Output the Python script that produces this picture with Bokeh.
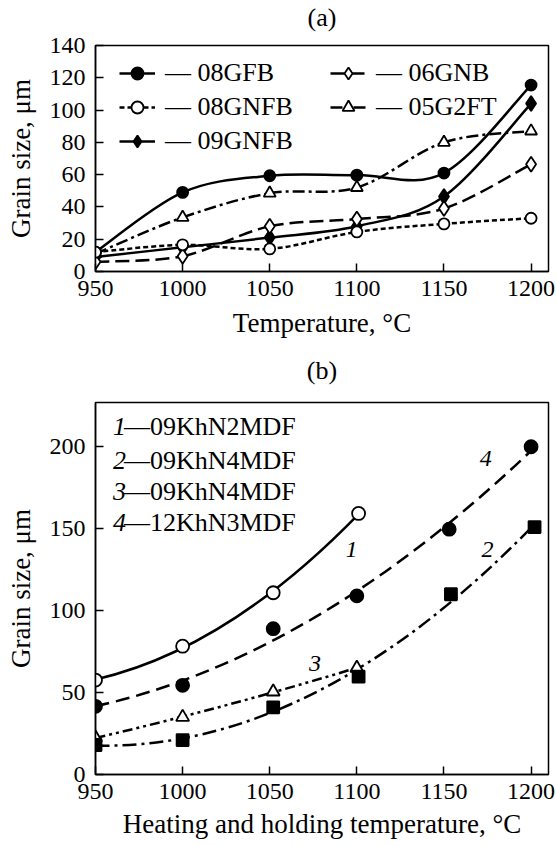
import numpy as np
from bokeh.plotting import figure
from bokeh.models import Range1d, FixedTicker, Legend, LegendItem, Label
from bokeh.layouts import column
from bokeh.embed import file_html
from bokeh.resources import INLINE

FONT = "Liberation Serif"

# ---------------- panel (a) data ----------------
temps_a = [950, 1000, 1050, 1100, 1150, 1200]
a_08GFB = [12, 49, 59.3, 59.7, 61, 115.5]
a_08GNFB = [12, 16.5, 14, 24.5, 29.5, 33]
a_09GNFB = [9, 15, 21, 28, 46.5, 104]
a_06GNB = [6, 9.5, 28, 32.5, 39, 66.5]
a_05G2FT = [11, 33.5, 48.5, 52, 80, 87]
xticks_a = [950, 1000, 1050, 1100, 1150, 1200]
yticks_a = [0, 20, 40, 60, 80, 100, 120, 140]

# ---------------- panel (b) data ----------------
b1_x = [950, 1000, 1052, 1101]
b1_y = [57.6, 78.3, 110.9, 159.3]
b2_x = [950, 1000, 1052, 1101, 1154, 1202]
b2_y = [18, 21, 41, 59.7, 110, 151]
b3_x = [950, 1000, 1052, 1100]
b3_y = [22.4, 35, 50.5, 65]
b4_x = [950, 1000, 1052, 1100, 1153, 1200]
b4_y = [41.6, 54.4, 89, 109, 149.7, 200]
xticks_b = [950, 1000, 1050, 1100, 1150, 1200]
yticks_b = [0, 50, 100, 150, 200]
legend_b_nums = ["1", "2", "3", "4"]
legend_b_names = ["\u201409KhN2MDF", "\u201409KhN4MDF", "\u201409KhN4MDF", "\u201412KhN3MDF"]


def catmull_bezier(xs, ys):
    xs = np.asarray(xs, float)
    ys = np.asarray(ys, float)
    n = len(xs)
    xp = np.concatenate([[xs[0]], xs, [xs[-1]]])
    yp = np.concatenate([[ys[0]], ys, [ys[-1]]])
    cx0 = xp[1:n] + (xp[2:n + 1] - xp[0:n - 1]) / 6
    cy0 = yp[1:n] + (yp[2:n + 1] - yp[0:n - 1]) / 6
    cx1 = xp[2:n + 1] - (xp[3:n + 2] - xp[1:n]) / 6
    cy1 = yp[2:n + 1] - (yp[3:n + 2] - yp[1:n]) / 6
    return dict(x0=xs[:-1], y0=ys[:-1], x1=xs[1:], y1=ys[1:],
                cx0=cx0, cy0=cy0, cx1=cx1, cy1=cy1)


def quad_fit(xs, ys):
    xs = np.asarray(xs, float)
    ys = np.asarray(ys, float)
    base = xs[0]
    t = xs - base
    c = np.polyfit(t, ys, 2)
    f = np.poly1d(c)
    df = f.deriv()
    u0, u1 = t[0], t[-1]
    cx = (u0 + u1) / 2
    cy = f(u0) + df(u0) * (u1 - u0) / 2
    return dict(x0=[u0 + base], y0=[f(u0)], x1=[u1 + base], y1=[f(u1)],
                cx=[cx + base], cy=[cy])


def style(p, xt, yt, xlabel, ylabel, xstand, tpad):
    p.xaxis.ticker = FixedTicker(ticks=xt)
    p.yaxis.ticker = FixedTicker(ticks=yt)
    for ax in (p.xaxis[0], p.yaxis[0]):
        ax.major_tick_in = 8
        ax.major_tick_out = 0
        ax.minor_tick_line_color = None
        ax.major_tick_line_width = 1.5
        ax.major_tick_line_color = "black"
        ax.axis_line_width = 1.5
        ax.axis_line_color = "black"
        ax.major_label_text_font = FONT
        ax.major_label_text_font_size = "24px"
        ax.major_label_text_color = "black"
        ax.axis_label_text_font = FONT
        ax.axis_label_text_font_size = "27px"
        ax.axis_label_text_font_style = "normal"
        ax.axis_label_text_color = "black"
    p.xaxis.major_label_standoff = 9
    p.yaxis.major_label_standoff = 10
    p.xaxis.axis_label_standoff = xstand
    p.yaxis.axis_label_standoff = 11
    p.xaxis.axis_label = xlabel
    p.yaxis.axis_label = ylabel
    p.grid.visible = False
    p.outline_line_color = "black"
    p.outline_line_width = 1.5
    p.outline_line_alpha = 1
    p.title.align = "center"
    p.title.text_font = FONT
    p.title.text_font_size = "26px"
    p.title.text_font_style = "normal"
    p.title.text_color = "black"
    p.title.standoff = 0
    try:
        p.title.padding = (0, 0, 0, tpad)
    except Exception:
        pass


# ---------------- figure (a) ----------------
pa = figure(width=556, height=350, x_range=Range1d(950, 1210), y_range=Range1d(0, 140),
            output_backend="svg", toolbar_location=None, title="(a)",
            min_border_left=95, min_border_right=8, min_border_top=45, min_border_bottom=79)
style(pa, xticks_a, yticks_a, "Temperature, \u00b0C", "Grain size, \u03bcm", 9, 14)

LW = 2.5
series_a = [
    # name, values, dash, marker, fill, size
    ("09GNFB", a_09GNFB, "solid", "diamond", "black", 15),
    ("08GFB", a_08GFB, "solid", "circle", "black", 11),
    ("05G2FT", a_05G2FT, "12 4 3 4", "triangle", "white", 12),
    ("06GNB", a_06GNB, "14 6", "diamond", "white", 15),
    ("08GNFB", a_08GNFB, "5 3", "circle", "white", 11),
]
rend = {}
for name, vals, dash, mk, fill, size in series_a:
    b = pa.bezier(source=catmull_bezier(temps_a, vals), x0="x0", y0="y0", x1="x1", y1="y1",
                  cx0="cx0", cy0="cy0", cx1="cx1", cy1="cy1",
                  line_color="black", line_width=LW, line_dash=dash)
    s = pa.scatter(temps_a, vals, marker=mk, size=size, fill_color=fill,
                   line_color="black", line_width=1.8)
    rend[name] = (b, s)


def make_legend(names, loc):
    items = [LegendItem(label="\u2014 " + n, renderers=list(rend[n])) for n in names]
    lg = Legend(items=items, location=loc, orientation="vertical")
    lg.label_text_font = FONT
    lg.label_text_font_size = "26px"
    lg.label_text_color = "black"
    lg.glyph_width = 36
    lg.glyph_height = 30
    lg.label_height = 30
    lg.label_standoff = 10
    lg.spacing = 4
    lg.padding = 0
    lg.margin = 0
    lg.background_fill_alpha = 0
    lg.border_line_alpha = 0
    return lg


pa.add_layout(make_legend(["08GFB", "08GNFB", "09GNFB"], (24, 115)))
pa.add_layout(make_legend(["06GNB", "05G2FT"], (235, 149)))

# ---------------- figure (b) ----------------
pb = figure(width=556, height=496, x_range=Range1d(950, 1210), y_range=Range1d(0, 227),
            output_backend="svg", toolbar_location=None, title="(b)",
            min_border_left=95, min_border_right=8, min_border_top=52, min_border_bottom=72)
style(pb, xticks_b, yticks_b, "Heating and holding temperature, \u00b0C", "Grain size, \u03bcm", 7, 18)

series_b = [
    (b1_x, b1_y, "solid", "circle", "white", 13),
    (b4_x, b4_y, "14 7", "circle", "black", 13),
    (b3_x, b3_y, "10 4 3 4 3 4", "triangle", "white", 13),
    (b2_x, b2_y, "14 5 3 5", "square", "black", 12),
]
for xs, ys, dash, mk, fill, size in series_b:
    pb.quadratic(source=quad_fit(xs, ys), x0="x0", y0="y0", x1="x1", y1="y1", cx="cx", cy="cy",
                 line_color="black", line_width=LW, line_dash=dash)
for xs, ys, dash, mk, fill, size in series_b:
    pb.scatter(xs, ys, marker=mk, size=size, fill_color=fill, line_color="black", line_width=1.8)

legend_b_y = [212.2, 191.9, 172.7, 153.5]
for num, nm, yy in zip(legend_b_nums, legend_b_names, legend_b_y):
    pb.add_layout(Label(x=960, y=yy, text=num, text_font=FONT, text_font_size="26px",
                        text_font_style="italic", text_baseline="middle", text_color="black"))
    pb.add_layout(Label(x=960, y=yy, x_offset=11, text=nm, text_font=FONT, text_font_size="26px",
                        text_baseline="middle", text_color="black"))

curve_labels = ["1", "4", "2", "3"]
curve_lx = [1097, 1174, 1175, 1076]
curve_ly = [137.5, 193, 137.5, 68]
for t, lx, ly in zip(curve_labels, curve_lx, curve_ly):
    pb.add_layout(Label(x=lx, y=ly, text=t, text_font=FONT, text_font_size="24px",
                        text_font_style="italic", text_align="center", text_baseline="middle",
                        text_color="black"))

layout = column(pa, pb, spacing=0)
open("out.html", "w").write(file_html(layout, INLINE))
